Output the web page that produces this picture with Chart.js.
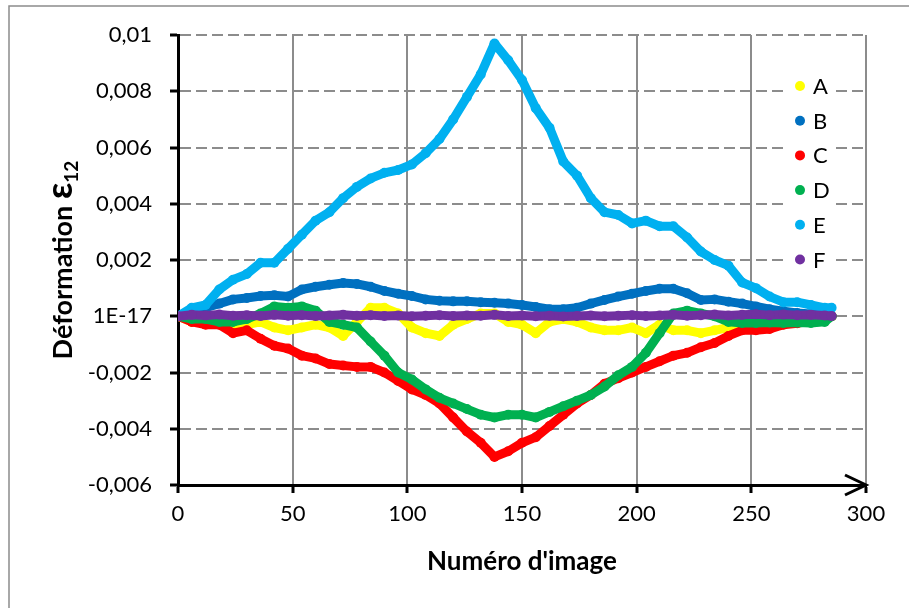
<!DOCTYPE html>
<html>
<head>
<meta charset="utf-8">
<script src="https://cdn.jsdelivr.net/npm/chart.js@4/dist/chart.umd.min.js"></script>
<style>
  html, body { margin: 0; padding: 0; background: #fff; }
  #wrap { width: 909px; height: 608px; }
</style>
</head>
<body>
<div id="wrap"><canvas id="chartDef" width="909" height="608"></canvas></div>
<script>
// numéros d'image (échantillonnés)
const imageNo = [0,6,12,18,24,30,36,42, 48,54,60,66,72,78,84,90,
  96,102,108,114,120,126,132,138, 144,150,156,162,168,174,180,186,
  192,198,204,210,216,222,228,234, 240,246,252,258,264,270,276,282, 285];

const serieA = [0,-0.0002,-0.0001,-0.0002,-0.0003,-0.0003,-0.0002,-0.0004,
  -0.0005,-0.0004,-0.0003,-0.0004,-0.0007,-0.0002,0.0003,0.0003,
  0.0001,-0.0004,-0.0006,-0.0007,-0.0003,-0.0001,0.0001,0.0001,
  -0.0002,-0.0003,-0.0006,-0.0002,-0.0001,-0.0002,-0.0004,-0.0005,
  -0.0005,-0.0004,-0.0006,-0.0003,-0.0005,-0.0005,-0.0006,-0.0005,
  -0.0004,-0.0003,-0.0002,-0.0002,-0.0001,-0.0001,0,0, 0];

const serieB = [0,0.0001,0.0003,0.00045,0.0006,0.00065,0.00072,0.00075,
  0.0007,0.00095,0.00105,0.00112,0.00118,0.00115,0.00105,0.0009,
  0.0008,0.00072,0.0006,0.00055,0.00053,0.00053,0.0005,0.00048,
  0.00045,0.0004,0.00033,0.00025,0.00025,0.0003,0.00045,0.00058,
  0.0007,0.0008,0.0009,0.00098,0.00098,0.00082,0.00058,0.0006,
  0.00052,0.00045,0.00035,0.00025,0.00018,0.00012,0.00008,0.00003, 0];

const serieC = [0,-0.0002,-0.0003,-0.0003,-0.0006,-0.0005,-0.0008,-0.00105,
  -0.00115,-0.0014,-0.0015,-0.0017,-0.00175,-0.0018,-0.0018,-0.002,
  -0.0023,-0.0026,-0.0028,-0.0031,-0.0036,-0.0041,-0.0045,-0.005,
  -0.0048,-0.0045,-0.0043,-0.0039,-0.0035,-0.0031,-0.0028,-0.0024,
  -0.0022,-0.002,-0.0018,-0.0016,-0.0014,-0.0013,-0.0011,-0.00095,
  -0.0007,-0.0005,-0.0005,-0.00045,-0.0003,-0.00025,-0.00015,-0.00008, 0];

const serieD = [0,-0.0001,-0.0001,-0.0002,-0.0002,-0.0001,0.0001,0.00035,
  0.0003,0.00035,0.0002,-0.0002,-0.0003,-0.0004,-0.0009,-0.0014,
  -0.002,-0.00225,-0.0026,-0.0029,-0.0031,-0.0033,-0.0035,-0.0036,
  -0.0035,-0.0035,-0.0036,-0.0034,-0.0032,-0.003,-0.0028,-0.0025,
  -0.0021,-0.0018,-0.0013,-0.0006,0.0001,0.0002,0.0001,0,
  -0.0002,-0.00024,-0.00024,-0.00022,-0.00024,-0.00022,-0.00024,-0.0002, 0];

const serieE = [0,0.0003,0.0004,0.00095,0.0013,0.0015,0.0019,0.0019,
  0.0024,0.0029,0.0034,0.0037,0.0042,0.0046,0.0049,0.0051,
  0.0052,0.0054,0.0058,0.0063,0.007,0.0078,0.0086,0.0097,
  0.0091,0.0084,0.0074,0.0067,0.0055,0.005,0.0042,0.0037,
  0.0036,0.0033,0.0034,0.0032,0.0032,0.0028,0.0023,0.002,
  0.0018,0.0012,0.001,0.0007,0.0005,0.0005,0.0004,0.0003, 0.0003];

const serieF = [0,0.00005,0.00003,0.00006,0.00002,0.00004,0.00001,0.00005,
  0.00002,0.00004,0.00001,0.00003,0.00005,0.00002,0.00004,0.00001,
  0.00003,0,0.00002,0.00004,0.00001,0.00003,0.00002,0.00005,
  0.00001,0.00003,0,0.00002,-0.00001,0.00001,0.00003,0,
  0.00002,0.00004,0.00001,0.00003,0.00005,0.00002,0.00004,0.00006,
  0.00003,0.00005,0.00007,0.00004,0.00006,0.00004,0.00005,0.00003, 0.00001];

const seriesNames  = ['A','B','C','D','E','F'];
const seriesColors = ['#FFFF00','#0070C0','#FF0000','#00B050','#00B0F0','#7030A0'];
const yTickLabels  = ['-0,006','-0,004','-0,002','1E-17','0,002','0,004','0,006','0,008','0,01'];

const FONT = 'Lato, "Open Sans", sans-serif';

function toPoints(ys){ return imageNo.map((x, i) => ({ x, y: ys[i] })); }

// titres, légende, flèche, cadre
const decor = {
  id: 'decor',
  beforeDraw(chart){
    const ctx = chart.ctx;
    ctx.save();
    ctx.fillStyle = '#fff';
    ctx.fillRect(0, 0, chart.width, chart.height);
    ctx.strokeStyle = '#8c8c8c';
    ctx.lineWidth = 1.5;
    ctx.strokeRect(9, 6, 1200, 1200);
    ctx.restore();
  },
  afterDraw(chart){
    const ctx = chart.ctx;
    const a = chart.chartArea;
    ctx.save();

    // flèche de l'axe x
    ctx.strokeStyle = '#000'; ctx.lineWidth = 3; ctx.lineCap = 'butt';
    ctx.beginPath();
    ctx.moveTo(a.right - 21, a.bottom - 10);
    ctx.lineTo(a.right, a.bottom);
    ctx.lineTo(a.right - 21, a.bottom + 10);
    ctx.stroke();

    // légende
    ctx.fillStyle = '#fff';
    ctx.fillRect(786, 70, 46, 205);
    ctx.font = '22px ' + FONT;
    ctx.textBaseline = 'middle';
    ctx.textAlign = 'left';
    seriesNames.forEach((n, i) => {
      const y = 86 + i * 34.7;
      ctx.fillStyle = seriesColors[i];
      ctx.beginPath(); ctx.arc(800, y, 5, 0, Math.PI * 2); ctx.fill();
      ctx.fillStyle = '#000';
      ctx.fillText(n, 813, y + 1);
    });

    // titre x
    ctx.font = 'bold 26px ' + FONT;
    ctx.textAlign = 'center';
    ctx.fillText("Numéro d'image", (a.left + a.right) / 2, 562);

    // titre y avec indice
    const main = 'Déformation ';
    const fMain = 'bold 27px ' + FONT, fEps = 'bold 36px ' + FONT, fSub = 'bold 19px ' + FONT;
    ctx.font = fMain; const w1 = ctx.measureText(main).width;
    ctx.font = fEps;  const w2 = ctx.measureText('ε').width;
    ctx.font = fSub;  const w3 = ctx.measureText('12').width;
    const tot = w1 + w2 + w3;
    ctx.translate(61, (a.top + a.bottom) / 2);
    ctx.rotate(-Math.PI / 2);
    ctx.textAlign = 'left';
    ctx.textBaseline = 'alphabetic';
    let x0 = -tot / 2;
    ctx.font = fMain; ctx.fillText(main, x0, 11);
    ctx.font = fEps;  ctx.fillText('ε', x0 + w1, 11);
    ctx.font = fSub;  ctx.fillText('12', x0 + w1 + w2, 17);
    ctx.restore();
  }
};

const datasets = seriesNames.map((name, i) => ({
  label: name,
  data: toPoints([serieA, serieB, serieC, serieD, serieE, serieF][i]),
  showLine: true,
  borderColor: seriesColors[i],
  backgroundColor: seriesColors[i],
  borderWidth: 9,
  borderJoinStyle: 'round',
  borderCapStyle: 'round',
  pointRadius: 5,
  pointBorderWidth: 0,
  order: 6 - i
}));

new Chart(document.getElementById('chartDef'), {
  type: 'scatter',
  data: { datasets },
  options: {
    responsive: false,
    animation: false,
    events: [],
    layout: { padding: { left: 0, top: 35, right: 43, bottom: 0 } },
    plugins: { legend: { display: false }, tooltip: { enabled: false } },
    scales: {
      x: {
        type: 'linear', min: 0, max: 300,
        afterFit: s => { s.height = 123; },
        ticks: { stepSize: 50, color: '#000', font: { family: FONT, size: 22 }, padding: 8, maxRotation: 0 },
        grid: { color: '#8c8c8c', lineWidth: 2, tickLength: 8, tickColor: '#000', tickWidth: 3 },
        border: { display: true, color: '#000', width: 3 }
      },
      y: {
        min: -0.006, max: 0.01,
        afterFit: s => { s.width = 178; },
        ticks: {
          stepSize: 0.002, color: '#000', font: { family: FONT, size: 22 }, padding: 18,
          callback: (v, i) => yTickLabels[i]
        },
        grid: { color: '#8c8c8c', lineWidth: 2, tickLength: 8, tickColor: '#000', tickWidth: 3 },
        border: { display: true, color: '#000', width: 3, dash: [11, 5] }
      }
    }
  },
  plugins: [decor]
});
</script>
</body>
</html>
